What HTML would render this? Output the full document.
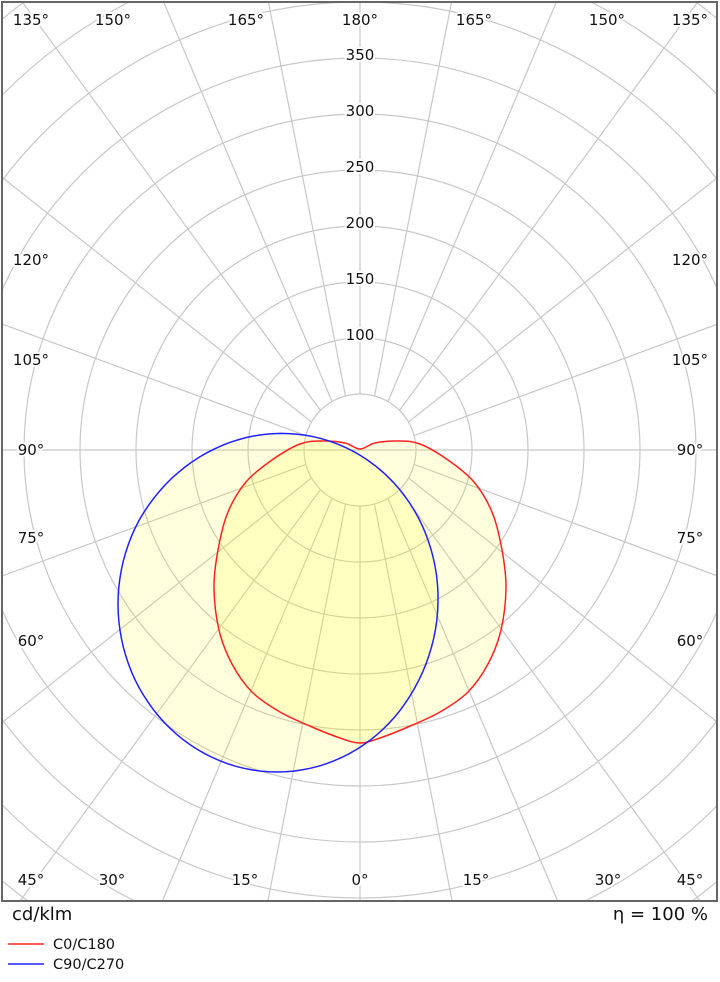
<!DOCTYPE html>
<html><head><meta charset="utf-8"><style>
html,body{margin:0;padding:0;background:#fff;overflow:hidden;width:720px;height:982px;}
svg{display:block;font-family:"DejaVu Sans","Liberation Sans",sans-serif;}
.lbl{font-size:15px;fill:#111;stroke:#fff;stroke-width:4px;paint-order:stroke;stroke-linejoin:round;}
</style></head><body>
<svg id="s" width="720" height="982" viewBox="0 0 720 982" xmlns="http://www.w3.org/2000/svg">
<defs><clipPath id="c"><rect x="2" y="2" width="715" height="899"/></clipPath></defs>
<g id="grid" clip-path="url(#c)" stroke="#c8c8c8" stroke-width="1.2" fill="none"></g>
<g clip-path="url(#c)">
<path id="blue" fill="rgba(255,255,0,0.13)" stroke="none"/>
<path id="red" fill="rgba(255,255,0,0.13)" stroke="none"/>
<path id="redl" fill="none" stroke="#ff2020" stroke-width="1.5"/>
<path id="bluel" fill="none" stroke="#2020ff" stroke-width="1.5"/>
</g>
<g id="labels"></g>
<rect x="2" y="2" width="715" height="899" fill="none" stroke="#666" stroke-width="2"/>
<text x="12" y="920" font-size="18" fill="#111">cd/klm</text>
<text x="708" y="920" font-size="18" fill="#111" text-anchor="end">η = 100 %</text>
<line x1="8" y1="944" x2="44" y2="944" stroke="#ff2020" stroke-width="1.5"/>
<text x="53" y="949" font-size="14.5" fill="#111">C0/C180</text>
<line x1="8" y1="964" x2="44" y2="964" stroke="#2020ff" stroke-width="1.5"/>
<text x="53" y="969" font-size="14.5" fill="#111">C90/C270</text>
</svg>
<script>
(function(){
var NS="http://www.w3.org/2000/svg",cx=360,cy=450,u=56;
var g=document.getElementById('grid'),L=document.getElementById('labels');
function el(p,tg,a){var e=document.createElementNS(NS,tg);for(var k in a)e.setAttribute(k,a[k]);p.appendChild(e);return e;}
for(var k=1;k<=11;k++)el(g,'circle',{cx:cx,cy:cy,r:k*u});
el(g,'line',{x1:0,y1:cy,x2:720,y2:cy});
el(g,'line',{x1:cx,y1:cy-u,x2:cx,y2:0});
el(g,'line',{x1:cx,y1:cy+u,x2:cx,y2:902});
for(var k2=1;k2<=5;k2++){
 var a=k2*15*Math.PI/180, d0=Math.atan(0.73*Math.tan(a));
 [-1,1].forEach(function(sx){[-1,1].forEach(function(sy){
  var x0=cx+sx*u*Math.sin(a),y0=cy+sy*u*Math.cos(a);
  el(g,'line',{x1:x0,y1:y0,x2:x0+sx*900*Math.sin(d0),y2:y0+sy*900*Math.cos(d0)});
 });});
}
function tx(x,y,s){var e=el(L,'text',{x:x,y:y,'class':'lbl','text-anchor':'middle'});e.textContent=s;}
for(var j=2;j<=7;j++)tx(cx,cy-j*u+2,String(j*50));
[[31,'135°'],[113,'150°'],[246,'165°'],[360,'180°'],[474,'165°'],[607,'150°'],[690,'135°']].forEach(function(p){tx(p[0],25,p[1]);});
[[31,'45°'],[112,'30°'],[245,'15°'],[360,'0°'],[476,'15°'],[608,'30°'],[690,'45°']].forEach(function(p){tx(p[0],885,p[1]);});
[[265,'120°'],[365,'105°'],[455,'90°'],[543,'75°'],[646,'60°']].forEach(function(p){tx(31,p[0],p[1]);tx(690,p[0],p[1]);});
function smooth(P){var n=P.length,s='M'+P[0][0]+','+P[0][1];
 for(var i=0;i<n;i++){var p0=P[(i-1+n)%n],p1=P[i],p2=P[(i+1)%n],p3=P[(i+2)%n];
  s+=' C'+(p1[0]+(p2[0]-p0[0])/6).toFixed(1)+','+(p1[1]+(p2[1]-p0[1])/6).toFixed(1)+' '+(p2[0]-(p3[0]-p1[0])/6).toFixed(1)+','+(p2[1]-(p3[1]-p1[1])/6).toFixed(1)+' '+p2[0]+','+p2[1];}
 return s+' Z';}
var R=[[360,449],[375,443],[397,441],[420,444],[448,460],[474,482],[492,512],[502,550],[506,588],[501,630],[488,664],[468,692],[440,712],[408,727],[380,738],[360,743]];
var pts=R.slice();for(var i=R.length-2;i>=1;i--)pts.push([720-R[i][0],R[i][1]]);
var d=smooth(pts);
document.getElementById('red').setAttribute('d',d);document.getElementById('redl').setAttribute('d',d);
var bp=[];for(var m=0;m<=120;m++){var th=m/120*2*Math.PI;
 var x=277+159*Math.cos(th),y=604+168*Math.sin(th);
 var bump=Math.max(0,Math.cos(th+Math.PI/3));x+=4*bump;y-=3*bump;
 bp.push(x.toFixed(1)+','+y.toFixed(1));}
d='M'+bp.join(' L')+' Z';
document.getElementById('blue').setAttribute('d',d);document.getElementById('bluel').setAttribute('d',d);
})();
</script>
</body></html>
